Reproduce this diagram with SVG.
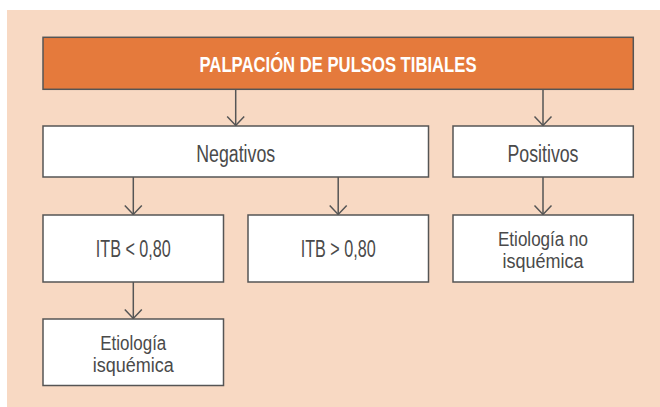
<svg xmlns="http://www.w3.org/2000/svg" width="660" height="407" viewBox="0 0 660 407">
  <style>
    .box { fill: #ffffff; stroke: #555555; stroke-width: 1.5; }
    .head { fill: #e57a3c; stroke: #555555; stroke-width: 1.5; }
    .t { font-family: "Liberation Sans Narrow", "Liberation Sans", Arial, sans-serif; font-size: 23px; fill: #4a4a4a; text-anchor: middle; }
    .t2 { font-family: "Liberation Sans Narrow", "Liberation Sans", Arial, sans-serif; font-size: 20px; fill: #4a4a4a; text-anchor: middle; }
    .title { font-family: "Liberation Sans Narrow", "Liberation Sans", Arial, sans-serif; font-size: 22px; font-weight: bold; fill: #ffffff; text-anchor: middle; }
    .conn { stroke: #555555; stroke-width: 1.5; fill: none; marker-end: url(#arr); }
  </style>
  <defs>
    <marker id="arr" markerUnits="userSpaceOnUse" viewBox="-11 -10 13 20" refX="0" refY="0" markerWidth="13" markerHeight="20" orient="auto">
      <path d="M-9,-8.5 L0,0 L-9,8.5" fill="none" stroke="#555555" stroke-width="1.5"/>
    </marker>
  </defs>
  <rect x="7" y="10" width="653" height="397" fill="#f8d9c3"/>

  <g id="connectors">
    <line class="conn" x1="235.7" y1="89" x2="235.7" y2="125.5"/>
    <line class="conn" x1="543" y1="89" x2="543" y2="125.5"/>
    <line class="conn" x1="133.3" y1="177" x2="133.3" y2="214.5"/>
    <line class="conn" x1="338.2" y1="177" x2="338.2" y2="214.5"/>
    <line class="conn" x1="543" y1="177" x2="543" y2="214.5"/>
    <line class="conn" x1="133.3" y1="282" x2="133.3" y2="318.5"/>
  </g>

  <g id="n-title">
    <rect class="head" x="43" y="37.3" width="590.3" height="52"/>
    <text class="title" x="338" y="71.5" textLength="277" lengthAdjust="spacingAndGlyphs">PALPACIÓN DE PULSOS TIBIALES</text>
  </g>
  <g id="n-negativos">
    <rect class="box" x="43" y="126" width="385.5" height="51"/>
    <text class="t" x="235.7" y="161.5" textLength="79" lengthAdjust="spacingAndGlyphs">Negativos</text>
  </g>
  <g id="n-positivos">
    <rect class="box" x="453" y="126" width="180.3" height="51"/>
    <text class="t" x="543" y="161.5" textLength="71" lengthAdjust="spacingAndGlyphs">Positivos</text>
  </g>
  <g id="n-itb-low">
    <rect class="box" x="43" y="215" width="180.5" height="67"/>
    <text class="t" x="133.3" y="257" textLength="75" lengthAdjust="spacingAndGlyphs">ITB &lt; 0,80</text>
  </g>
  <g id="n-itb-high">
    <rect class="box" x="248" y="215" width="180.5" height="67"/>
    <text class="t" x="338.2" y="257" textLength="75" lengthAdjust="spacingAndGlyphs">ITB &gt; 0,80</text>
  </g>
  <g id="n-no-isq">
    <rect class="box" x="453" y="215" width="180.3" height="67"/>
    <text class="t2" x="543" y="245.5" textLength="90" lengthAdjust="spacingAndGlyphs">Etiología no</text>
    <text class="t2" x="543" y="268" textLength="81" lengthAdjust="spacingAndGlyphs">isquémica</text>
  </g>
  <g id="n-isq">
    <rect class="box" x="43" y="319" width="180.5" height="66.5"/>
    <text class="t2" x="133.3" y="349.5" textLength="66" lengthAdjust="spacingAndGlyphs">Etiología</text>
    <text class="t2" x="133.3" y="372" textLength="81" lengthAdjust="spacingAndGlyphs">isquémica</text>
  </g>
</svg>
